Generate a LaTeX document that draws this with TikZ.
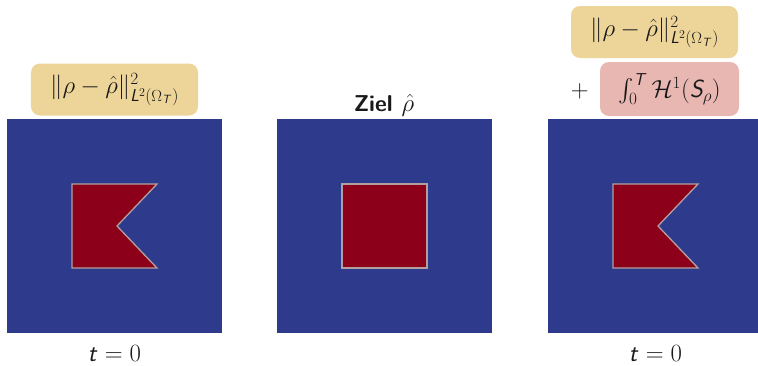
\documentclass[tikz,border=0pt]{standalone}
\usepackage{amsmath,amssymb}
\usepackage{sansmath}
\usepackage{xcolor}
\usetikzlibrary{positioning}

\DeclareMathAlphabet{\mathssi}{OT1}{cmss}{m}{sl}
\newcommand{\si}[1]{\mathssi{#1}}

\definecolor{feldblau}{RGB}{46,58,140}
\definecolor{feldrot}{RGB}{140,0,26}
\definecolor{randgrau}{RGB}{178,160,160}
\definecolor{boxgelb}{RGB}{237,213,154}
\definecolor{boxrot}{RGB}{232,183,178}
\definecolor{textgrau}{RGB}{25,25,25}

\tikzset{
  feld/.style={fill=feldblau, minimum width=215bp, minimum height=214bp, inner sep=0pt},
  termbox/.style={rounded corners=9bp, inner sep=0pt, text=textgrau},
  zeitlabel/.style={anchor=base, text=textgrau, inner sep=0pt}
}

\begin{document}
\begin{tikzpicture}[x=1bp, y=-1bp, every node/.style={font=\fontsize{23}{27}\selectfont\sansmath}]
  \useasboundingbox (0,0) rectangle (758,365);
  \clip (0,0) rectangle (758,365);
  % Dichtefelder: blaues Gebiet, rotes Objekt mit hellem Rand
  \foreach \sx/\name in {7/links, 277/mitte, 548/rechts} {
    \node[feld] (\name) at (\sx+107.5,226) {};
  }
  \foreach \sx in {7, 548} {
    \draw[randgrau, fill=feldrot, line width=1.3bp]
      (\sx+65,184) -- (\sx+150,184) -- (\sx+110,226) -- (\sx+150,268) -- (\sx+65,268) -- cycle;
  }
  \draw[randgrau, fill=feldrot, line width=1.3bp] (342,184) rectangle (427,268);

  % Zielfunktionale
  \node[termbox, fill=boxgelb, minimum width=167bp, minimum height=52bp] (normL) at (114.5,89.5)
    {$\|\rho-\hat{\rho}\|^2_{\si{L}^2(\Omega_{\si{T}})}$};
  \node[termbox, fill=boxgelb, minimum width=167bp, minimum height=52bp] (normR) at (654.5,32)
    {$\|\rho-\hat{\rho}\|^2_{\si{L}^2(\Omega_{\si{T}})}$};
  \node[termbox, fill=boxrot, minimum width=139bp, minimum height=54bp] (perim) at (669.5,89)
    {$\int_0^{\si{T}} \mathcal{H}^1(\si{S}_\rho)$};
  \node[text=textgrau, anchor=base east, inner sep=0pt] (plus) at ([xshift=-11bp]perim.base west) {$+$};
  \node[anchor=base, text=textgrau, inner sep=0pt, font=\fontsize{23}{27}\selectfont\sansmath] (ziel) at (384,111)
    {\textsf{\bfseries Ziel}\hspace{9bp}$\hat{\rho}$};

  % Zeitpunkte
  \node[zeitlabel] (tL) at (114.5,361) {$\si{t}=0$};
  \node[zeitlabel] (tR) at (655.5,361) {$\si{t}=0$};
\end{tikzpicture}
\end{document}
